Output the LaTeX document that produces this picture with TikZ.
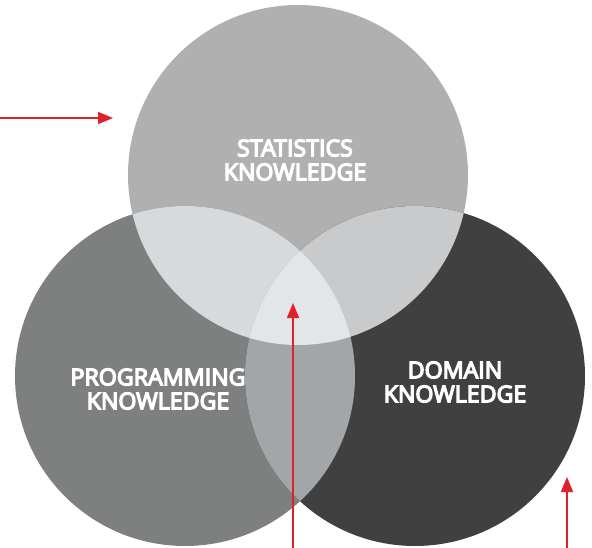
\documentclass[tikz,border=0pt]{standalone}
\usepackage{fontspec}
\setmainfont{Open Sans}
\usetikzlibrary{arrows.meta}

% polgruby napis: wypelnienie + obrys liter
\newcommand{\semibold}[1]{\special{pdf:literal direct 2 Tr 1.3 w}#1\special{pdf:literal direct 0 Tr}}

\definecolor{statgray}{HTML}{B0B0B0}
\definecolor{proggray}{HTML}{7E7F7F}
\definecolor{domgray}{HTML}{404040}
\definecolor{statprog}{HTML}{D6DADC}
\definecolor{statdom}{HTML}{C9CACB}
\definecolor{progdom}{HTML}{A2A6A9}
\definecolor{allthree}{HTML}{E2E6E9}
\definecolor{pointred}{HTML}{E0202A}

\tikzset{
  label/.style={text=white, align=center, font=\fontsize{23.2}{24}\selectfont},
  pointer/.style={-{Triangle[length=15pt, width=12pt]}, line width=1.6pt, draw=pointred, fill=pointred}
}

\begin{document}
\begin{tikzpicture}[x=1pt, y=-1pt]
		\def\Radius{170} % promien kola
		\def\TopX{298} \def\TopY{175}
		\def\LeftX{185} \def\LeftY{376}
		\def\RightX{415} \def\RightY{376}

		\useasboundingbox (0,0) rectangle (592,548);

		% trzy kola
		\fill[statgray] (\TopX,\TopY) circle (\Radius);
		\fill[proggray] (\LeftX,\LeftY) circle (\Radius);
		\fill[domgray] (\RightX,\RightY) circle (\Radius);

		% czesci wspolne po dwa
		\begin{scope}
			\clip (\TopX,\TopY) circle (\Radius);
			\fill[statprog] (\LeftX,\LeftY) circle (\Radius);
			\fill[statdom] (\RightX,\RightY) circle (\Radius);
		\end{scope}
		\begin{scope}
			\clip (\LeftX,\LeftY) circle (\Radius);
			\fill[progdom] (\RightX,\RightY) circle (\Radius);
		\end{scope}

		% srodek (wszystkie trzy)
		\begin{scope}
			\clip (\TopX,\TopY) circle (\Radius);
			\clip (\LeftX,\LeftY) circle (\Radius);
			\fill[allthree] (\RightX,\RightY) circle (\Radius);
		\end{scope}

		% napisy
		\node[label] (stats) at (295,160) {\semibold{STATISTICS}\\\semibold{KNOWLEDGE}};
		\node[label] (prog) at (158,389) {\semibold{PROGRAMMING}\\\semibold{KNOWLEDGE}};
		\node[label] (domain) at (455,382) {\semibold{DOMAIN}\\\semibold{KNOWLEDGE}};

		% czerwone strzalki
		\coordinate (arrowAstart) at (0,118);
		\coordinate (arrowAend) at (113,118);
		\coordinate (arrowBstart) at (293,548);
		\coordinate (arrowBend) at (293,303);
		\coordinate (arrowCstart) at (567,548);
		\coordinate (arrowCend) at (567,477);
		\draw[pointer] (arrowAstart) -- (arrowAend);
		\draw[pointer] (arrowBstart) -- (arrowBend);
		\draw[pointer] (arrowCstart) -- (arrowCend);
	\end{tikzpicture}
\end{document}
